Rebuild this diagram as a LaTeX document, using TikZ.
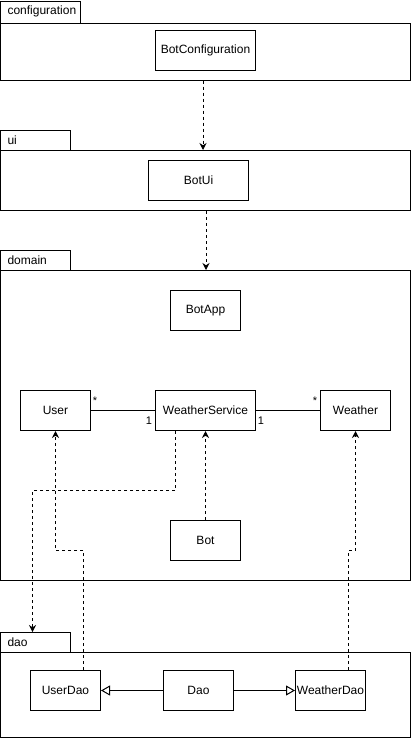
\documentclass[tikz,border=0pt]{standalone}
\usepackage{fontspec}
\setmainfont{Liberation Sans}
\usetikzlibrary{arrows.meta,calc}
\begin{document}
\begin{tikzpicture}[x=1pt,y=-1pt,
  line width=1pt,
  cls/.style={draw,rectangle,minimum width=70pt,minimum height=40pt,inner sep=0pt,font=\fontsize{12}{14}\selectfont},
  wide/.style={minimum width=100pt},
  pkgbody/.style={draw,rectangle,minimum width=410pt,inner sep=0pt},
  pkgtab/.style={draw,rectangle,minimum height=20pt,inner sep=0pt,font=\fontsize{12}{14}\selectfont},
  dep/.style={dashed,dash pattern=on 3pt off 3pt,-{Stealth[length=7pt,width=7pt]}},
  gen/.style={-{Triangle[open,length=9pt,width=10pt]}},
  mult/.style={font=\fontsize{11}{13}\selectfont,inner sep=0pt}]
\useasboundingbox (0,0) rectangle (411,739);
% packages
\node[pkgtab,minimum width=80pt,minimum height=22pt] (cfgtab) at (40.5,12) {};
\node[anchor=west,font=\fontsize{12}{14}\selectfont,inner sep=0pt] (cfgtabl) at (7,11) {configuration};
\node[pkgbody,minimum height=57pt] (cfg) at (205.5,51.5) {};
\node[pkgtab,minimum width=70pt] (uitab) at (35.5,140.5) {};
\node[anchor=west,font=\fontsize{12}{14}\selectfont,inner sep=0pt] (uitabl) at (7,140.5) {ui};
\node[pkgbody,minimum height=60pt] (ui) at (205.5,180.5) {};
\node[pkgtab,minimum width=70pt] (domtab) at (35.5,260.5) {};
\node[anchor=west,font=\fontsize{12}{14}\selectfont,inner sep=0pt] (domtabl) at (7,260.5) {domain};
\node[pkgbody,minimum height=310pt] (dom) at (205.5,425.5) {};
\node[pkgtab,minimum width=70pt] (daotab) at (35.5,642.5) {};
\node[anchor=west,font=\fontsize{12}{14}\selectfont,inner sep=0pt] (daotabl) at (7,642.5) {dao};
\node[pkgbody,minimum height=85pt] (dao) at (205.5,695) {};
% classes
\node[cls,wide] (botconf) at (205.5,50.5) {BotConfiguration};
\node[cls,wide] (botui) at (198.5,180.5) {BotUi};
\node[cls] (botapp) at (205.5,310.5) {BotApp};
\node[cls] (user) at (55.5,410.5) {User};
\node[cls,wide] (ws) at (205.5,410.5) {WeatherService};
\node[cls] (weather) at (355.5,410.5) {Weather};
\node[cls] (bot) at (205.5,540.5) {Bot};
\node[cls] (userdao) at (65.5,690.5) {UserDao};
\node[cls] (daoc) at (198.5,690.5) {Dao};
\node[cls] (wdao) at (330.5,690.5) {WeatherDao};
% associations
\draw (user) -- (ws);
\draw (ws) -- (weather);
\node[mult] (m1) at (95,401) {*};
\node[mult] (m2) at (149,421) {1};
\node[mult] (m3) at (261,421) {1};
\node[mult] (m4) at (315,401) {*};
% dependencies between packages
\draw[dep] ([xshift=-2.5pt]cfg.south) -- ([xshift=-2.5pt]ui.north);
\draw[dep] ([xshift=0.5pt]ui.south) -- ([xshift=0.5pt]dom.north);
% dependencies
\coordinate (d1) at (175.5,490.5);
\coordinate (d2) at (32.5,490.5);
\draw[dep] ([xshift=-30pt]ws.south) -- (d1) -- (d2) -- (d2 |- daotab.north);
\draw[dep] (bot) -- (ws);
\coordinate (u1) at (83.5,550.5);
\coordinate (u2) at (55.5,550.5);
\draw[dep] ([xshift=18pt]userdao.north) -- (u1) -- (u2) -- (user.south);
\coordinate (w1) at (348.5,550.5);
\coordinate (w2) at (355.5,550.5);
\draw[dep] ([xshift=18pt]wdao.north) -- (w1) -- (w2) -- (weather.south);
% generalizations
\draw[gen] (daoc) -- (userdao);
\draw[gen] (daoc) -- (wdao);
\end{tikzpicture}
\end{document}
